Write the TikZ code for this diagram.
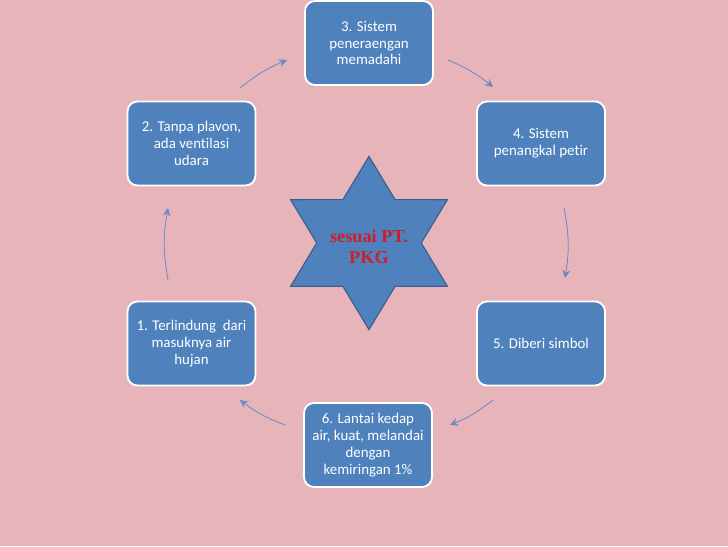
\documentclass[tikz,border=0pt]{standalone}
\usepackage{fontspec}
\setmainfont{Liberation Serif}
\setsansfont{Carlito}[Ligatures=NoCommon]
\usetikzlibrary{arrows.meta,shapes.geometric}
\definecolor{bgpink}{HTML}{E6B4B9}
\definecolor{boxblue}{HTML}{4F81BD}
\definecolor{starline}{HTML}{3A5F8E}
\definecolor{cycleblue}{HTML}{6F89C6}
\definecolor{pkgred}{HTML}{CC1F2C}
\tikzset{
  point/.style={rectangle, rounded corners=0.25cm, fill=boxblue, draw=white, line width=1.3pt,
    minimum width=3.2cm, minimum height=2.1cm, align=center, text=white,
    font=\sffamily\fontsize{10.6}{12}\selectfont},
  cycle/.style={-{Stealth[length=2mm,width=2mm]}, draw=cycleblue, line width=0.6pt},
}
\begin{document}
\begin{tikzpicture}[x=0.025cm, y=0.025cm]
% background
\fill[bgpink] (-369,-303) rectangle (359,243);
\useasboundingbox (-369,-303) rectangle (359,243);
% centre star
\node[star, star points=6, star point ratio=1.732, minimum size=4.33cm, inner sep=0pt,
  xscale=1.045, transform shape,
  fill=boxblue, draw=starline, line width=0.8pt] (pkg) at (0,0) {};
\node[align=center, text=pkgred, font=\bfseries\fontsize{13}{15}\selectfont]
  (pkgtext) at (0,-4) {sesuai PT.\\PKG};
% the six points
\node[point] (p3) at (0,200) {3. Sistem\\peneraengan\\memadahi};
\node[point] (p4) at (172,99.5) {4. Sistem\\penangkal petir};
\node[point] (p5) at (172,-100.5) {5. Diberi simbol};
\node[point] (p6) at (-1,-202) {6. Lantai kedap\\air, kuat, melandai\\dengan\\kemiringan 1\%};
\node[point] (p1) at (-177.5,-100.5) {1. Terlindung\ \ dari\\masuknya air\\hujan};
\node[point] (p2) at (-177.5,99.5) {2. Tanpa plavon,\\ada ventilasi\\udara};
% cycle arrows
\coordinate (a1) at (-201,-37); \coordinate (b1) at (-201,35);
\coordinate (a2) at (-129,155); \coordinate (b2) at (-82,183);
\coordinate (a3) at (79,183);   \coordinate (b3) at (124,156);
\coordinate (a4) at (195,35);   \coordinate (b4) at (196,-35);
\coordinate (a5) at (124,-157); \coordinate (b5) at (81,-182);
\coordinate (a6) at (-84,-182); \coordinate (b6) at (-129,-157);
\foreach \i/\b in {1/10,2/8,3/8,4/10,5/8,6/8}
  \draw[cycle] (a\i) to[bend left=\b] (b\i);
\end{tikzpicture}
\end{document}
